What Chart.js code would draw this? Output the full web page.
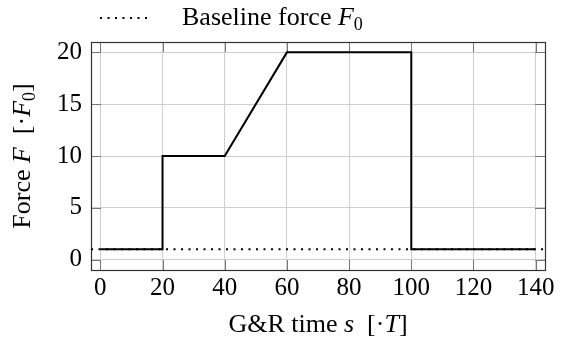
<!DOCTYPE html>
<html>
<head>
<meta charset="utf-8">
<script src="https://cdn.jsdelivr.net/npm/chart.js@4/dist/chart.umd.min.js"></script>
<style>
  html, body { margin: 0; padding: 0; background: #fff; }
</style>
</head>
<body>
<canvas id="chart" width="561" height="340"></canvas>
<script>
// data
const forceTime = [0, 20, 20, 40, 60, 100, 100, 140];
const forceValue = [1, 1, 10, 10, 20, 20, 1, 1];
const baselineTime = [-3, 143];
const baselineValue = [1, 1];
const xTicks = [0, 20, 40, 60, 80, 100, 120, 140];
const yTicks = [0, 5, 10, 15, 20];
const xRange = [-3, 143];
const yRange = [-1, 21];

const SERIF = '"Liberation Serif", "DejaVu Serif", serif';

// draw a line of text made of normal / italic / subscript pieces
function runFont(r) {
  if (r.s === 'i') return 'italic 26px ' + SERIF;
  if (r.s === 'sub') return '18px ' + SERIF;
  return '26px ' + SERIF;
}
function runsWidth(ctx, runs) {
  let w = 0;
  runs.forEach(r => { ctx.font = runFont(r); w += ctx.measureText(r.t).width; });
  return w;
}
function drawRuns(ctx, runs, x, y) {
  ctx.textBaseline = 'alphabetic';
  ctx.textAlign = 'left';
  runs.forEach(r => {
    ctx.font = runFont(r);
    ctx.fillText(r.t, x, r.s === 'sub' ? y + 5 : y);
    x += ctx.measureText(r.t).width;
  });
}

const xTitle = [{t: 'G&R time '}, {t: 's', s: 'i'}, {t: '  [·'}, {t: 'T', s: 'i'}, {t: ']'}];
const yTitle = [{t: 'Force '}, {t: 'F', s: 'i'}, {t: '  [·'}, {t: 'F', s: 'i'}, {t: '0', s: 'sub'}, {t: ']'}];
const legendText = [{t: 'Baseline force '}, {t: 'F', s: 'i'}, {t: '0', s: 'sub'}];

const framePlugin = {
  id: 'frame',
  beforeDatasetsDraw(chart) {
    const {ctx, chartArea: a, scales: {x, y}} = chart;
    ctx.save();
    ctx.strokeStyle = '#777';
    ctx.lineWidth = 1;
    ctx.beginPath();
    xTicks.forEach(v => {
      const px = Math.round(x.getPixelForValue(v)) + 0.5;
      ctx.moveTo(px, a.top); ctx.lineTo(px, a.top + 10);
      ctx.moveTo(px, a.bottom); ctx.lineTo(px, a.bottom - 10);
    });
    yTicks.forEach(v => {
      const py = Math.round(y.getPixelForValue(v)) + 0.5;
      ctx.moveTo(a.left, py); ctx.lineTo(a.left + 10, py);
      ctx.moveTo(a.right, py); ctx.lineTo(a.right - 10, py);
    });
    ctx.stroke();
    ctx.strokeStyle = '#333';
    ctx.lineWidth = 1.2;
    ctx.strokeRect(Math.round(a.left) + 0.5, Math.round(a.top) + 0.5,
      Math.round(a.right - a.left), Math.round(a.bottom - a.top));
    ctx.restore();
  },
  afterDraw(chart) {
    const {ctx, chartArea: a} = chart;
    ctx.save();
    ctx.fillStyle = '#000';
    // x title
    const xw = runsWidth(ctx, xTitle);
    drawRuns(ctx, xTitle, (a.left + a.right) / 2 - xw / 2, 332);
    // y title, rotated
    const yw = runsWidth(ctx, yTitle);
    ctx.save();
    ctx.translate(30, (a.top + a.bottom) / 2);
    ctx.rotate(-Math.PI / 2);
    drawRuns(ctx, yTitle, -yw / 2, 0);
    ctx.restore();
    // legend
    ctx.strokeStyle = '#000';
    ctx.lineWidth = 2;
    ctx.setLineDash([2, 5.5]);
    ctx.beginPath();
    ctx.moveTo(100, 18);
    ctx.lineTo(152, 18);
    ctx.stroke();
    ctx.setLineDash([]);
    drawRuns(ctx, legendText, 182, 25);
    ctx.restore();
  }
};

new Chart(document.getElementById('chart'), {
  type: 'line',
  data: {
    datasets: [
      {
        label: 'Force',
        data: forceTime.map((t, i) => ({x: t, y: forceValue[i]})),
        borderColor: '#000',
        borderWidth: 2,
        pointRadius: 0,
        fill: false,
        tension: 0
      },
      {
        label: 'Baseline force F0',
        data: baselineTime.map((t, i) => ({x: t, y: baselineValue[i]})),
        borderColor: '#000',
        borderWidth: 2,
        borderDash: [2, 5.5],
        pointRadius: 0,
        fill: false,
        tension: 0
      }
    ]
  },
  options: {
    responsive: false,
    animation: false,
    devicePixelRatio: 1,
    layout: { padding: { left: 0, right: 16, top: 42, bottom: 0 } },
    plugins: { legend: { display: false }, tooltip: { enabled: false } },
    scales: {
      x: {
        type: 'linear',
        min: xRange[0],
        max: xRange[1],
        afterBuildTicks: s => { s.ticks = xTicks.map(v => ({value: v})); },
        afterFit: s => { s.height = 70; },
        grid: { color: '#cfcfcf', lineWidth: 1, drawTicks: false },
        border: { display: false },
        ticks: { color: '#000', padding: 3, maxRotation: 0, font: { family: SERIF, size: 25 } }
      },
      y: {
        type: 'linear',
        min: yRange[0],
        max: yRange[1],
        afterBuildTicks: s => { s.ticks = yTicks.map(v => ({value: v})); },
        afterFit: s => { s.width = 91; },
        grid: { color: '#cfcfcf', lineWidth: 1, drawTicks: false },
        border: { display: false },
        ticks: { color: '#000', padding: 9, font: { family: SERIF, size: 25 } }
      }
    }
  },
  plugins: [framePlugin]
});
</script>
</body>
</html>
